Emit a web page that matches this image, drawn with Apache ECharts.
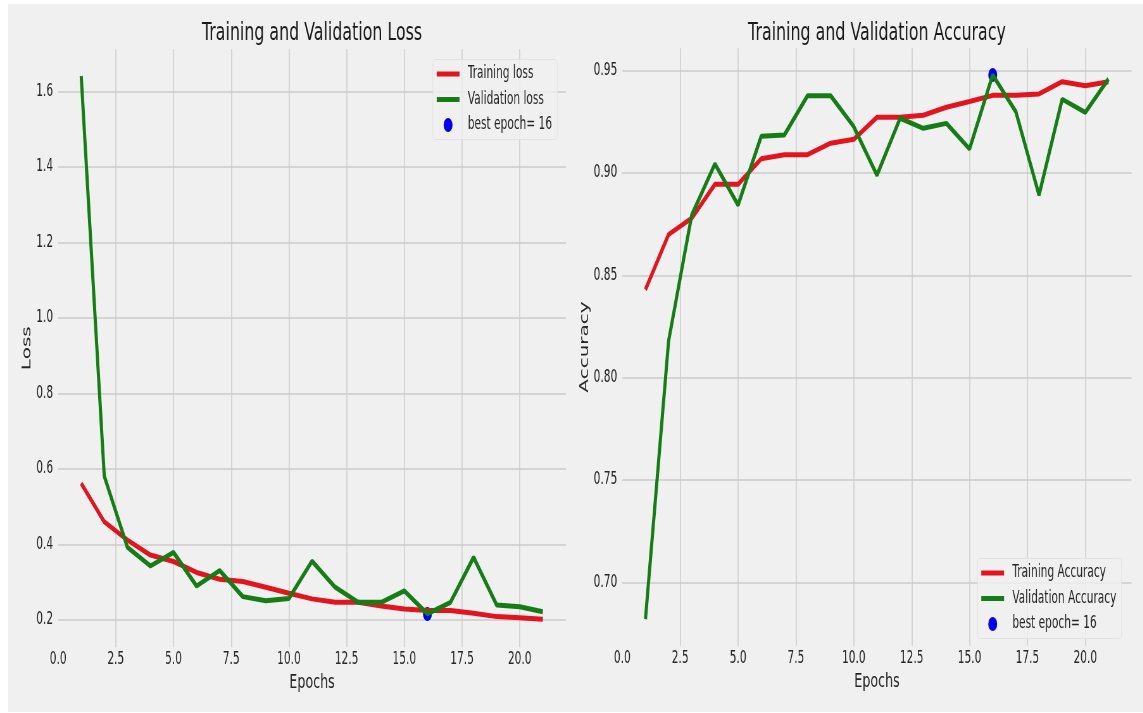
<!DOCTYPE html>
<html>
<head>
<meta charset="utf-8">
<title>Training and Validation Loss / Accuracy</title>
<script src="https://cdn.jsdelivr.net/npm/echarts@6/dist/echarts.min.js"></script>
<style>
  html, body { margin: 0; padding: 0; background: #fff; overflow: hidden; }
  #wrap { position: relative; width: 1143px; height: 713px; overflow: hidden; background: #fff; }
  #panel { position: absolute; left: 8px; top: 4px; right: 0; bottom: 1px; background: #f0f0f0; }
  /* the reference figure is squeezed horizontally, so the chart is drawn wide and scaled down */
  #chart { position: absolute; left: 0; top: 0; width: 1806px; height: 713px; transform: scaleX(0.633); transform-origin: 0 0; }
</style>
</head>
<body>
<div id="wrap">
  <div id="panel"></div>
  <div id="chart"></div>
</div>
<script>
  // data
  const epochs = [1, 2, 3, 4, 5, 6, 7, 8, 9, 10, 11, 12, 13, 14, 15, 16, 17, 18, 19, 20, 21];
  const trainLoss = [0.562, 0.460, 0.412, 0.372, 0.355, 0.326, 0.308, 0.302, 0.287, 0.271, 0.256, 0.247, 0.247, 0.237, 0.229, 0.225, 0.225, 0.218, 0.209, 0.206, 0.202];
  const valLoss = [1.641, 0.581, 0.393, 0.343, 0.379, 0.290, 0.331, 0.262, 0.251, 0.257, 0.356, 0.287, 0.247, 0.247, 0.277, 0.216, 0.247, 0.366, 0.240, 0.235, 0.222];
  const trainAcc = [0.843, 0.870, 0.878, 0.8945, 0.8945, 0.907, 0.909, 0.909, 0.9146, 0.9165, 0.9273, 0.9273, 0.9283, 0.9322, 0.935, 0.938, 0.938, 0.9387, 0.9447, 0.9427, 0.9447];
  const valAcc = [0.682, 0.818, 0.8795, 0.9045, 0.8844, 0.918, 0.9186, 0.9378, 0.9378, 0.9227, 0.899, 0.9268, 0.9219, 0.9243, 0.9118, 0.948, 0.930, 0.8893, 0.9361, 0.9297, 0.946];
  const bestEpoch = 16;
  const xTicks = { min: 0, max: 22, interval: 2.5 };
  const lossTicks = { min: 0.128, max: 1.712, step: 0.2 };
  const accTicks = { min: 0.669, max: 0.961, step: 0.05 };

  const RED = '#e3141e', GREEN = '#167d16', BLUE = '#0000f0';
  const FONT = 'DejaVu Sans';
  const TXT = '#262626';
  const lineIcon = 'path://M0,0h36v5h-36z';

  const pairs = ys => epochs.map((e, i) => [e, ys[i]]);

  function xAxisOf(gridIndex) {
    return {
      gridIndex, type: 'value',
      min: xTicks.min, max: xTicks.max, interval: xTicks.interval,
      name: 'Epochs', nameLocation: 'middle', nameGap: 24,
      nameTextStyle: { fontFamily: FONT, fontSize: 20, color: TXT },
      axisLine: { show: false }, axisTick: { show: false },
      axisLabel: { fontFamily: FONT, fontSize: 16.75, color: TXT, margin: 4, showMaxLabel: false,
                   formatter: v => v.toFixed(1) },
      splitLine: { show: true, showMinLine: false, showMaxLine: false, lineStyle: { color: '#cbcbcb', width: 1.5 } }
    };
  }

  function yAxisOf(gridIndex, t, name, gap, digits) {
    return {
      gridIndex, type: 'value',
      min: t.min, max: t.max, minInterval: t.step, maxInterval: t.step,
      name, nameLocation: 'middle', nameGap: gap,
      nameTextStyle: { fontFamily: FONT, fontSize: 20, color: TXT },
      axisLine: { show: false }, axisTick: { show: false },
      axisLabel: { fontFamily: FONT, fontSize: 16.75, color: TXT, margin: 8,
                   showMinLabel: false, showMaxLabel: false,
                   formatter: v => v.toFixed(digits) },
      splitLine: { show: true, showMinLine: false, showMaxLine: false, lineStyle: { color: '#cbcbcb', width: 1.5 } }
    };
  }

  function lineSeries(name, ys, color, idx) {
    return {
      type: 'line', name, data: pairs(ys), xAxisIndex: idx, yAxisIndex: idx,
      showSymbol: false, symbol: 'none', silent: true,
      lineStyle: { color, width: 5 }, itemStyle: { color }
    };
  }

  function bestSeries(ys, idx) {
    return {
      type: 'scatter', name: 'best epoch= 16', xAxisIndex: idx, yAxisIndex: idx, silent: true,
      symbolSize: 14, itemStyle: { color: BLUE, opacity: 1 }, data: [[bestEpoch, ys[bestEpoch - 1]]]
    };
  }

  function legendOf(names, left, top) {
    return {
      orient: 'vertical', left, top,
      padding: [6, 8, 6, 6], itemGap: 8.5, itemWidth: 36, itemHeight: 14,
      backgroundColor: 'rgba(240,240,240,0.8)', borderColor: '#e2e2e2', borderWidth: 1, borderRadius: 4,
      itemStyle: { borderWidth: 0, opacity: 1 },
      textStyle: { fontFamily: FONT, fontSize: 16.75, color: TXT, padding: [0, 0, 0, 8] },
      selectedMode: false,
      data: [
        { name: names[0], icon: lineIcon },
        { name: names[1], icon: lineIcon },
        { name: names[2], icon: 'circle' }
      ]
    };
  }

  const chart = echarts.init(document.getElementById('chart'));
  chart.setOption({
    animation: false,
    backgroundColor: 'transparent',
    graphic: [
      { type: 'text', x: 492.9, y: 21, style: { text: 'Training and Validation Loss', align: 'center', verticalAlign: 'top', fontFamily: FONT, fontSize: 25, fill: '#1a1a1a' } },
      { type: 'text', x: 1385.4, y: 21, style: { text: 'Training and Validation Accuracy', align: 'center', verticalAlign: 'top', fontFamily: FONT, fontSize: 25, fill: '#1a1a1a' } }
    ],
    grid: [
      { left: 91.8, top: 49.2, width: 802.2, height: 598, outerBoundsMode: 'none' },
      { left: 983.1, top: 48.3, width: 804.6, height: 597.4, outerBoundsMode: 'none' }
    ],
    xAxis: [xAxisOf(0), xAxisOf(1)],
    yAxis: [yAxisOf(0, lossTicks, 'Loss', 34, 1), yAxisOf(1, accTicks, 'Accuracy', 48, 2)],
    legend: [
      legendOf(['Training loss', 'Validation loss', 'best epoch= 16'], 683.9, 59.5),
      legendOf(['Training Accuracy', 'Validation Accuracy', 'best epoch= 16'], 1544.2, 558.5)
    ],
    series: [
      lineSeries('Training loss', trainLoss, RED, 0),
      lineSeries('Validation loss', valLoss, GREEN, 0),
      bestSeries(valLoss, 0),
      lineSeries('Training Accuracy', trainAcc, RED, 1),
      lineSeries('Validation Accuracy', valAcc, GREEN, 1),
      bestSeries(valAcc, 1)
    ]
  });
</script>
</body>
</html>
